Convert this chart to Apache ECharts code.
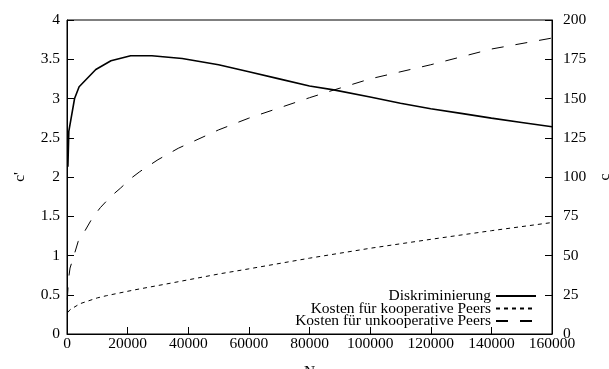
<!DOCTYPE html>
<html><head><meta charset="utf-8">
<script src="https://cdn.jsdelivr.net/npm/echarts@6/dist/echarts.min.js"></script>
<style>html,body{margin:0;padding:0;background:#fff}#c{width:609px;height:369px}</style>
</head><body><div id="c"></div>
<script>
const discN = [300, 600, 2500, 4000, 9500, 14500, 21000, 28000, 38000, 50000, 60000, 70000, 80000, 88000, 100000, 110000, 120000, 130000, 140000, 150000, 160000];
const discV = [2.13, 2.58, 3.0, 3.15, 3.37, 3.48, 3.545, 3.545, 3.51, 3.43, 3.34, 3.25, 3.16, 3.11, 3.02, 2.94, 2.87, 2.81, 2.75, 2.695, 2.64];
const koopN = [300, 1000, 4300, 10000, 13000, 22000, 34000, 50000, 60000, 80000, 100000, 120000, 140000, 160000];
const koopV = [13.8, 15.5, 19.3, 23.0, 24.4, 28.0, 32.3, 38.2, 41.5, 48.3, 54.6, 60.3, 65.8, 71.0];
const unkoopN = [100, 500, 1000, 2300, 3700, 6000, 8400, 11000, 14400, 17700, 21000, 24000, 30000, 36700, 50000, 60000, 70000, 80000, 88000, 100000, 120000, 140000, 160000];
const unkoopV = [22, 35, 42, 50, 59, 66, 74, 80.5, 87.5, 93, 99, 103.4, 111, 118.3, 130, 137.5, 144, 150.5, 155.4, 162.5, 171.5, 181.5, 188.5];
const names = ['Diskriminierung', 'Kosten für kooperative Peers', 'Kosten für unkooperative Peers'];

const F = 'Liberation Serif';
const FS = 15.5;
const pair = (xs, ys) => xs.map((x, i) => [x, ys[i]]);
const chart = echarts.init(document.getElementById('c'), null, {renderer: 'canvas'});
chart.setOption({
  animation: false,
  backgroundColor: '#fff',
  textStyle: {fontFamily: F, color: '#000'},
  grid: {left: 67, right: 57, top: 20, bottom: 35, containLabel: false, outerBoundsMode: 'none',
         show: true, borderColor: '#000', borderWidth: 1},
  legend: {
    data: names, orient: 'vertical', align: 'right', right: 72, top: 288, padding: 0,
    itemGap: -3.5, itemWidth: 40, itemHeight: 10,
    itemStyle: {opacity: 0},
    textStyle: {fontFamily: F, fontSize: FS, color: '#000', lineHeight: 13}
  },
  xAxis: {
    type: 'value', min: 0, max: 160000, interval: 20000,
    name: 'N', nameLocation: 'middle', nameGap: 30,
    nameTextStyle: {fontFamily: F, fontSize: FS, color: '#000'},
    axisLine: {show: true, lineStyle: {color: '#000', width: 1}},
    axisTick: {show: true, inside: true, length: 7, lineStyle: {color: '#000'}},
    axisLabel: {fontFamily: F, fontSize: FS, color: '#000', margin: 2, formatter: v => String(v)},
    splitLine: {show: false}
  },
  yAxis: [{
    type: 'value', min: 0, max: 4, interval: 0.5, position: 'left',
    name: "c'", nameLocation: 'middle', nameGap: 39, nameRotate: 90,
    nameTextStyle: {fontFamily: F, fontSize: FS, color: '#000'},
    axisLine: {show: true, lineStyle: {color: '#000', width: 1}},
    axisTick: {show: true, inside: true, length: 7, lineStyle: {color: '#000'}},
    axisLabel: {fontFamily: F, fontSize: FS, color: '#000', margin: 7},
    splitLine: {show: false}
  }, {
    type: 'value', min: 0, max: 200, interval: 25, position: 'right',
    name: 'c', nameLocation: 'middle', nameGap: 45, nameRotate: 90,
    nameTextStyle: {fontFamily: F, fontSize: FS, color: '#000'},
    axisLine: {show: true, lineStyle: {color: '#000', width: 1}},
    axisTick: {show: true, inside: true, length: 7, lineStyle: {color: '#000'}},
    axisLabel: {fontFamily: F, fontSize: FS, color: '#000', margin: 11},
    splitLine: {show: false}
  }],
  series: [{
    name: names[0], type: 'line', yAxisIndex: 0, data: pair(discN, discV),
    symbol: 'none', showSymbol: false, color: '#000',
    lineStyle: {color: '#000', width: 1.6, type: 'solid'}
  }, {
    name: names[1], type: 'line', yAxisIndex: 1, data: pair(koopN, koopV),
    symbol: 'none', showSymbol: false, color: '#000',
    lineStyle: {color: '#000', width: 1, type: [4, 4]}
  }, {
    name: names[2], type: 'line', yAxisIndex: 1, data: pair(unkoopN, unkoopV),
    symbol: 'none', showSymbol: false, color: '#000',
    lineStyle: {color: '#000', width: 1, type: [12, 12]}
  }]
});
</script></body></html>
